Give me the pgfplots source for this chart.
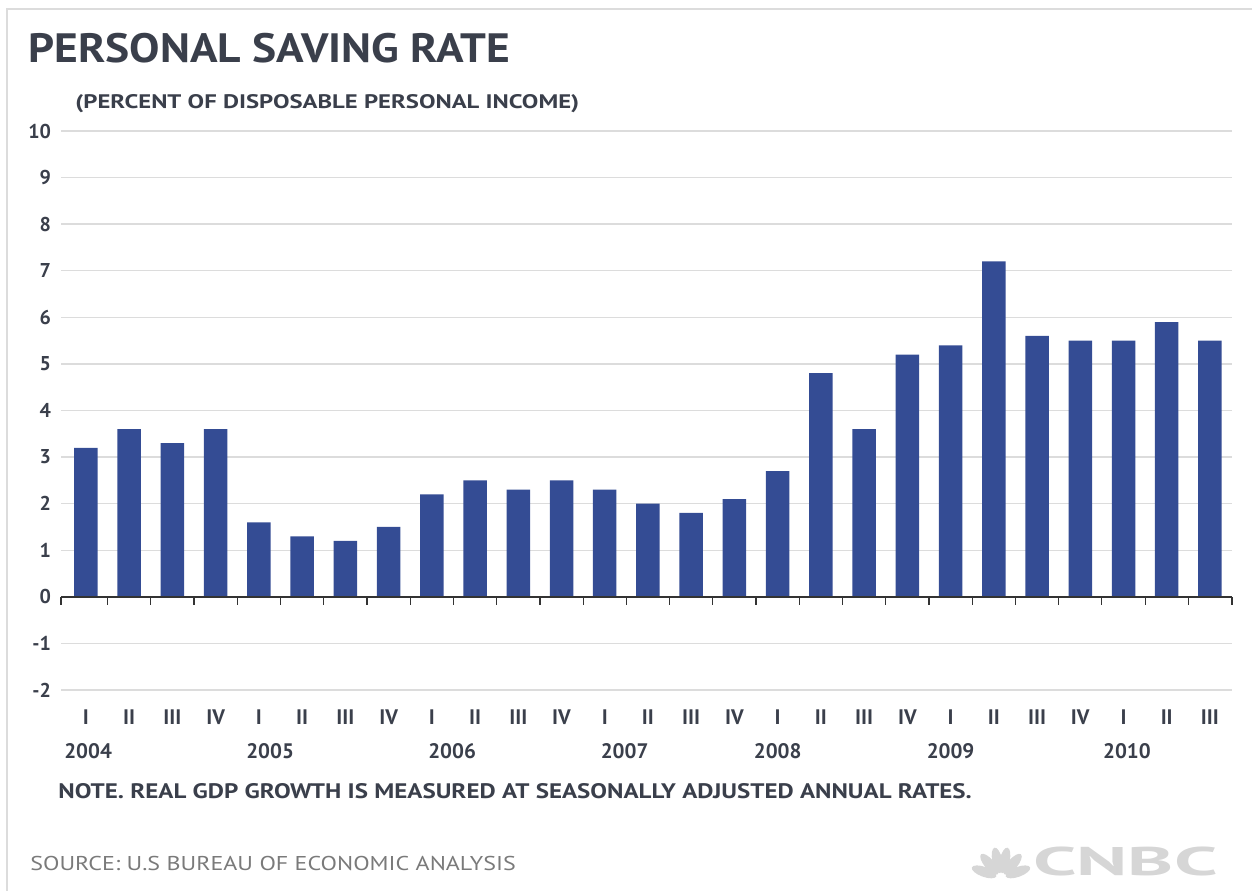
\documentclass[border=0pt]{standalone}
\usepackage{fontspec}
\setmainfont{PT Sans}
\usepackage{pgfplots}
\pgfplotsset{compat=1.18}
\definecolor{barc}{HTML}{344C94}
\definecolor{txt}{HTML}{3A3F4B}
\definecolor{gridc}{HTML}{DCDCDC}
\definecolor{srcc}{HTML}{7A7A7A}
\definecolor{logoc}{HTML}{D6D6D6}
\begin{document}
\begin{tikzpicture}
\path[use as bounding box] (0,0) rectangle (626pt,-445pt);
\draw[gridc, line width=1.2pt] (3.5pt,-450pt) -- (3.5pt,-4.5pt) -- (630pt,-4.5pt);
\node[anchor=base west, inner sep=0, text=txt, font=\bfseries\fontsize{20.5}{24}\selectfont] at (14pt,-31pt) {\scalebox{1.11}[1]{PERSONAL SAVING RATE}};
\node[anchor=base west, inner sep=0, text=txt, font=\bfseries\fontsize{9.8}{12}\selectfont] at (37.5pt,-54pt) {\scalebox{1.26}[1]{(PERCENT OF DISPOSABLE PERSONAL INCOME)}};
\node[anchor=base west, inner sep=0, text=txt, font=\bfseries\fontsize{10.5}{12}\selectfont] at (29pt,-399pt) {\scalebox{1.19}[1]{NOTE. REAL GDP GROWTH IS MEASURED AT SEASONALLY ADJUSTED ANNUAL RATES.}};
\node[anchor=base west, inner sep=0, text=srcc, font=\fontsize{10}{12}\selectfont] at (15pt,-435pt) {\scalebox{1.2}[1]{SOURCE: U.S BUREAU OF ECONOMIC ANALYSIS}};
\node[anchor=base east, inner sep=0, text=logoc, font=\bfseries\fontsize{20}{24}\selectfont] at (609pt,-437.5pt) {\scalebox{1.95}[1]{CNBC}};
\begin{scope}[shift={(500.5pt,-439pt)}]
  \foreach \a in {20,50,78,102,130,160}{
    \fill[logoc, rotate=\a] (9pt,0) ellipse[x radius=6.5pt, y radius=2.5pt];
  }
\end{scope}
\begin{axis}[
  at={(30.5pt,-345pt)}, anchor=south west,
  scale only axis, width=585.5pt, height=279.5pt,
  xmin=-0.578, xmax=26.51, ymin=-2, ymax=10,
  axis line style={draw=none},
  ytick={-2,-1,...,10},
  ymajorgrids, grid style={gridc, line width=0.7pt},
  major tick length=0pt,
  yticklabel style={text=txt, font=\bfseries\fontsize{10}{12}\selectfont, anchor=east, xshift=-1.5pt},
  /pgf/number format/assume math mode=true,
  xtick={0,...,26},
  xticklabels={I,II,III,IV,I,II,III,IV,I,II,III,IV,I,II,III,IV,I,II,III,IV,I,II,III,IV,I,II,III},
  xticklabel style={text=txt, font=\bfseries\fontsize{10.5}{12}\selectfont, anchor=base, yshift=-17pt},
  extra x ticks={0.05,4.26,8.47,12.46,16,20,24.08},
  extra x tick labels={2004,2005,2006,2007,2008,2009,2010},
  extra x tick style={grid=none, major tick length=0pt, xticklabel style={yshift=-17pt}},
  clip=false,
]
\addplot[ybar, bar width=11.75pt, fill=barc, draw=none] coordinates {
(0,3.2) (1,3.6) (2,3.3) (3,3.6) (4,1.6) (5,1.3) (6,1.2) (7,1.5)
(8,2.2) (9,2.5) (10,2.3) (11,2.5) (12,2.3) (13,2.0) (14,1.8) (15,2.1)
(16,2.7) (17,4.8) (18,3.6) (19,5.2) (20,5.4) (21,7.2) (22,5.6) (23,5.5)
(24,5.5) (25,5.9) (26,5.5)};
\addplot[black!80, line width=0.7pt] coordinates {(-0.578,0) (26.51,0)};
\addplot[ycomb, black!80, line width=0.6pt] coordinates {
(-0.578,-0.17) (0.5,-0.17) (1.5,-0.17) (2.5,-0.17) (3.5,-0.17) (4.5,-0.17) (5.5,-0.17)
(6.5,-0.17) (7.5,-0.17) (8.5,-0.17) (9.5,-0.17) (10.5,-0.17) (11.5,-0.17) (12.5,-0.17)
(13.5,-0.17) (14.5,-0.17) (15.5,-0.17) (16.5,-0.17) (17.5,-0.17) (18.5,-0.17) (19.5,-0.17)
(20.5,-0.17) (21.5,-0.17) (22.5,-0.17) (23.5,-0.17) (24.5,-0.17) (25.5,-0.17) (26.51,-0.17)};
\end{axis}
\end{tikzpicture}
\end{document}
